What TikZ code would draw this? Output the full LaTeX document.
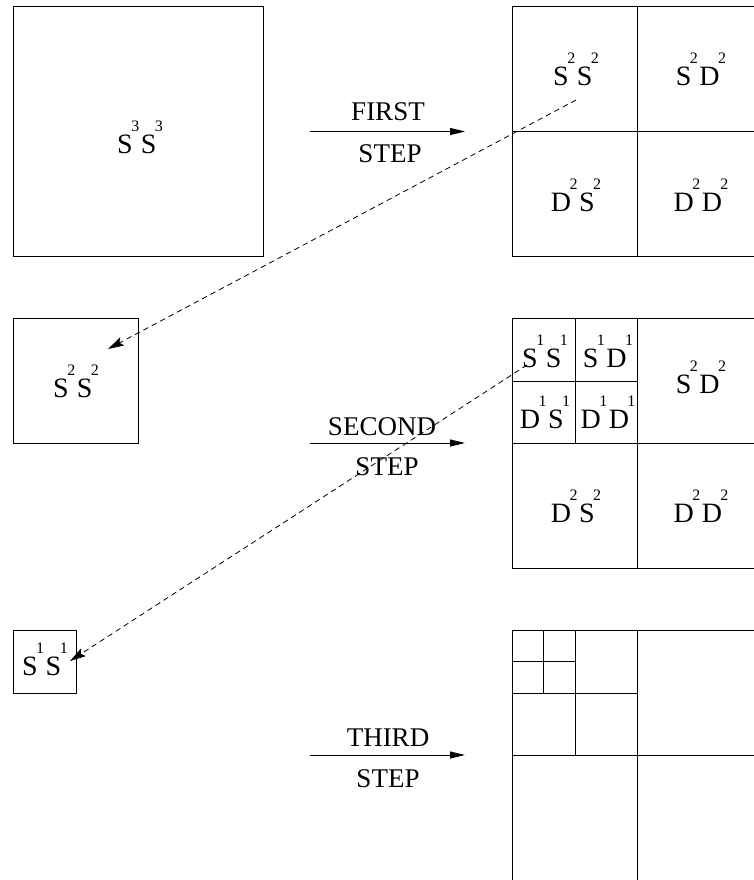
\documentclass[tikz,border=0pt]{standalone}
\usepackage{fontspec}
\setmainfont{Liberation Serif}
\usetikzlibrary{arrows.meta}
\newcommand\pw[2]{#1\kern-1.5bp\raisebox{22bp}{\fontsize{16bp}{16bp}\selectfont #2}}
\newcommand\pq[4]{\pw{#1}{#2}\kern1.5bp\pw{#3}{#4}}
\tikzset{
  frame/.style={draw, line width=1bp},
  lab/.style={anchor=base, inner sep=0pt, font=\fontsize{28bp}{28bp}\selectfont},
  steptext/.style={anchor=base, inner sep=0pt, font=\fontsize{27bp}{27bp}\selectfont},
  steparrow/.style={line width=1bp, -{Triangle[length=15bp,width=7bp]}},
  dasharrow/.style={line width=0.8bp, dash pattern=on 5.5bp off 4bp, -{Stealth[length=16bp,width=9bp,inset=3bp]}},
}
\begin{document}
\begin{tikzpicture}[x=1bp,y=-1bp]
\useasboundingbox (0,0) rectangle (754,880);
\clip (0,0) rectangle (754,880);
% left boxes
\draw[frame] (13,6.5) rectangle (263,256);
\node[lab] (s3) at (140,153) {\pq{S}{3}{S}{3}};
\draw[frame] (13,318.5) rectangle (138,443.5);
\node[lab] (s2box) at (76,397) {\pq{S}{2}{S}{2}};
\draw[frame] (13,630.5) rectangle (76,693);
\node[lab] (s1box) at (45,675) {\pq{S}{1}{S}{1}};
% grid 1
\draw[frame] (512.5,6.5) rectangle (762.5,256);
\draw[frame] (637.5,6.5) -- (637.5,256);
\draw[frame] (512.5,131.5) -- (762.5,131.5);
\node[lab] (g1a) at (576,85) {\pq{S}{2}{S}{2}};
\node[lab] (g1b) at (701,85) {\pq{S}{2}{D}{2}};
\node[lab] (g1c) at (576,211) {\pq{D}{2}{S}{2}};
\node[lab] (g1d) at (701,211) {\pq{D}{2}{D}{2}};
% grid 2
\draw[frame] (512.5,318.5) rectangle (762.5,568);
\draw[frame] (637.5,318.5) -- (637.5,568);
\draw[frame] (512.5,443.5) -- (762.5,443.5);
\draw[frame] (575,318.5) -- (575,443.5);
\draw[frame] (512.5,381) -- (637.5,381);
\node[lab] (g2a) at (545,367) {\pq{S}{1}{S}{1}};
\node[lab] (g2b) at (608,367) {\pq{S}{1}{D}{1}};
\node[lab] (g2c) at (545,428) {\pq{D}{1}{S}{1}};
\node[lab] (g2d) at (608,428) {\pq{D}{1}{D}{1}};
\node[lab] (g2e) at (701,393) {\pq{S}{2}{D}{2}};
\node[lab] (g2f) at (576,522) {\pq{D}{2}{S}{2}};
\node[lab] (g2g) at (701,522) {\pq{D}{2}{D}{2}};
% grid 3
\draw[frame] (512.5,630.5) rectangle (762.5,880.5);
\draw[frame] (637.5,630.5) -- (637.5,880.5);
\draw[frame] (512.5,755.5) -- (762.5,755.5);
\draw[frame] (575,630.5) -- (575,755.5);
\draw[frame] (512.5,693) -- (637.5,693);
\draw[frame] (543.5,630.5) -- (543.5,693);
\draw[frame] (512.5,661.5) -- (575,661.5);
% step arrows
\coordinate (a1s) at (310,131.5); \coordinate (a1e) at (465,131.5);
\coordinate (a2s) at (310,443);   \coordinate (a2e) at (465,443);
\coordinate (a3s) at (310,755);   \coordinate (a3e) at (465,755);
\draw[steparrow] (a1s) -- (a1e);
\draw[steparrow] (a2s) -- (a2e);
\draw[steparrow] (a3s) -- (a3e);
\node[steptext] (t1) at (388,120) {FIRST};
\node[steptext] (t1b) at (390,162) {STEP};
\node[steptext] (t2) at (382,435) {SECOND};
\node[steptext] (t2b) at (387,475) {STEP};
\node[steptext] (t3) at (388,746) {THIRD};
\node[steptext] (t3b) at (388,787) {STEP};
% dashed connectors
\coordinate (d1s) at (576,100); \coordinate (d1e) at (108,349);
\coordinate (d2s) at (527,365); \coordinate (d2e) at (70,661);
\draw[dasharrow] (d1s) -- (d1e);
\draw[dasharrow] (d2s) -- (d2e);
\end{tikzpicture}
\end{document}
